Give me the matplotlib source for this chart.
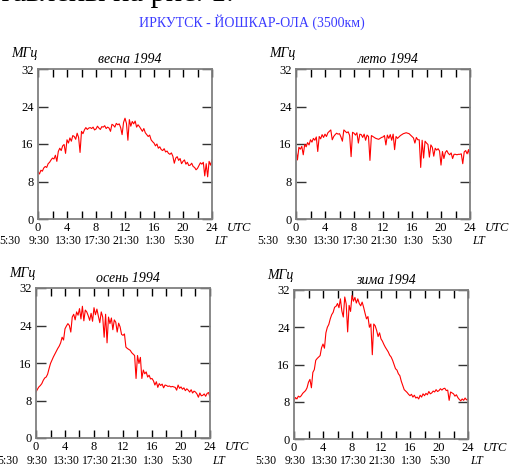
import matplotlib
matplotlib.use("Agg")
import matplotlib.pyplot as plt
import matplotlib.transforms as mtransforms
from matplotlib import font_manager as fm
import numpy as np

# make sure the Times-like serif is registered
for path in fm.findSystemFonts():
    if 'LiberationSerif' in path.replace(' ', '').replace('-', ''):
        fm.fontManager.addfont(path)
plt.rcParams['font.family'] = ['Liberation Serif', 'DejaVu Serif']

# time grid, UTC hours (0.2 h step)
hours = np.linspace(0, 24, 121)

spring = [10.1, 9.6, 10.4, 10.2, 10.9, 11.2,
          11.0, 11.8, 12.1, 12.6, 13.0,
          12.8, 13.6, 12.3, 14.4, 15.1,
          14.6, 15.6, 15.9, 14.0, 16.9,
          16.2, 17.3, 16.6, 17.8, 17.6,
          17.0, 18.3, 17.4, 14.2, 18.7,
          18.2, 19.0, 19.5, 19.1, 19.4,
          19.5, 19.3, 19.6, 19.0, 19.2,
          19.8, 19.4, 19.1, 19.7, 19.6,
          19.9, 19.3, 19.6, 19.4, 18.7,
          20.2, 20.0, 19.6, 20.4, 20.1,
          20.3, 19.5, 18.0, 20.6, 21.5,
          20.4, 16.8, 21.2, 19.8, 20.8,
          20.3, 20.9, 19.6, 20.1, 19.7,
          19.2, 18.7, 19.3, 18.4, 18.0,
          17.6, 17.9, 16.9, 16.5, 16.2,
          15.6, 16.0, 15.1, 15.4, 14.8,
          14.6, 15.0, 14.3, 14.5, 14.0,
          13.8, 14.1, 13.4, 11.9, 13.0,
          13.3, 12.5, 12.9, 11.8, 12.3,
          12.6, 11.7, 12.1, 11.4, 11.5,
          11.9, 11.2, 11.0, 10.5, 10.8,
          11.4, 12.0, 11.7, 12.1, 9.2,
          11.8, 9.0, 12.3, 11.5, 12.6]

summer = [14.8, 12.6, 15.3, 14.9, 15.5, 13.7,
          15.9, 15.4, 16.3, 15.8, 16.9,
          16.4, 17.2, 16.8, 17.5, 14.4,
          17.6, 17.1, 18.0, 17.4, 18.1,
          17.6, 18.4, 18.7, 19.0, 16.9,
          17.6, 18.0, 18.3, 18.1, 18.2,
          17.5, 16.6, 19.0, 18.7, 18.4,
          18.6, 17.8, 13.3, 18.5, 18.3,
          17.9, 18.4, 16.2, 18.1, 18.0,
          17.4, 18.1, 16.8, 17.9, 17.6,
          12.5, 17.8, 17.6, 17.4, 17.2,
          17.1, 17.0, 17.2, 17.4, 17.5,
          17.8, 15.8, 17.9, 17.2, 18.0,
          16.8, 18.1, 14.8, 17.6, 17.2,
          17.5, 17.8, 18.0, 18.2, 18.3,
          18.4, 18.3, 18.2, 17.9, 17.6,
          17.3, 16.2, 17.4, 16.9, 16.9,
          11.0, 16.8, 13.0, 16.6, 16.2,
          15.9, 13.2, 15.8, 15.3, 13.4,
          15.1, 14.7, 15.0, 14.5, 11.5,
          14.4, 12.9, 14.2, 14.6, 14.0,
          13.7, 14.1, 12.9, 13.8, 13.8,
          13.7, 13.8, 13.8, 13.9, 11.8,
          14.3, 14.6, 13.9, 14.8, 13.2]

autumn = [9.8, 10.4, 10.9, 11.2, 11.6, 12.3,
          12.8, 13.0, 13.6, 14.8, 15.9,
          16.6, 17.3, 17.9, 18.5, 19.1,
          19.6, 20.3, 21.5, 20.9, 23.3,
          23.9, 24.4, 24.0, 22.6, 25.8,
          26.4, 25.2, 26.9, 26.2, 27.6,
          25.4, 28.1, 25.0, 27.3, 26.9,
          26.1, 25.1, 26.6, 24.9, 27.8,
          26.3, 27.5, 26.0, 24.6, 26.9,
          25.8, 21.5, 26.4, 20.3, 25.8,
          24.4, 25.6, 23.1, 25.2, 24.7,
          22.6, 24.5, 23.7, 22.1, 21.9,
          22.2, 19.4, 19.1, 18.9, 18.7,
          18.2, 17.9, 17.6, 12.7, 17.6,
          15.9, 17.2, 12.7, 14.5, 13.7,
          14.1, 13.0, 13.4, 12.6, 12.7,
          12.2, 11.3, 12.0, 10.8, 11.6,
          11.2, 11.5, 10.7, 11.3, 11.2,
          11.0, 11.1, 10.9, 11.0, 10.9,
          10.8, 10.2, 11.3, 10.6, 10.9,
          10.4, 10.7, 10.1, 10.5, 10.2,
          9.8, 10.3, 9.6, 10.0, 9.8,
          9.4, 8.7, 9.6, 9.0, 9.1,
          9.4, 8.9, 9.5, 9.7, 8.7]

winter = [8.2, 8.9, 8.6, 9.2, 9.0, 9.3,
          9.8, 10.1, 10.4, 11.0, 12.2,
          12.8, 11.0, 14.3, 14.9, 16.9,
          17.3, 17.6, 17.9, 19.6, 20.4,
          19.5, 22.8, 24.0, 24.6, 25.8,
          26.7, 27.2, 28.3, 28.5, 29.1,
          28.2, 30.1, 27.5, 26.2, 30.5,
          29.0, 23.0, 28.7, 27.4, 30.8,
          29.6, 30.4, 29.2, 30.1, 29.1,
          28.6, 29.4, 28.3, 27.0, 25.8,
          26.3, 24.0, 24.7, 18.1, 24.7,
          24.3, 23.3, 22.0, 22.8, 21.5,
          21.0, 20.3, 19.7, 19.2, 18.7,
          18.0, 17.6, 16.9, 16.0, 15.1,
          14.8, 14.0, 13.6, 12.4, 11.5,
          10.6, 10.3, 10.0, 9.6, 9.3,
          9.6, 9.0, 9.4, 8.8, 9.0,
          8.6, 9.4, 9.0, 9.7, 9.3,
          9.8, 9.5, 10.2, 9.7, 9.9,
          10.3, 10.1, 10.6, 10.2, 10.4,
          10.8, 10.5, 10.8, 10.9, 10.4,
          10.5, 8.3, 10.1, 9.9, 9.7,
          9.2, 9.5, 8.9, 8.5, 8.2,
          8.6, 8.3, 8.8, 8.4, 8.6]

titles = ['весна 1994', 'лето 1994', 'осень 1994', 'зима 1994']
series = [spring, summer, autumn, winter]
utc_ticks = [0, 4, 8, 12, 16, 20, 24]
lt_labels = ['5:30', '9:30', '13:30', '17:30', '21:30', '1:30', '5:30']

W, H = 509, 467
fig = plt.figure(figsize=(W / 100, H / 100), dpi=100)

# axes boxes in pixels: left, top, right, bottom
boxes = [(38, 69, 212, 219), (296, 69, 470, 219),
         (36, 288, 210, 438), (294, 290, 468, 439)]

# tail of the document sentence above the figure, mostly cut off
fig.text(234 / W, 1 - 0.5 / H, 'представлены на рис. 1.', fontsize=22,
         ha='right', va='baseline', color='black')
fig.text(252 / W, 1 - 22 / H, 'ИРКУТСК - ЙОШКАР-ОЛА (3500км)', fontsize=10,
         ha='center', va='center', color='#3a3aff')

fs = 8.5
for (l, t, r, b), title, vals in zip(boxes, titles, series):
    ax = fig.add_axes([l / W, 1 - b / H, (r - l) / W, (b - t) / H])
    ax.plot(hours, vals, color='red', lw=0.8)
    ax.set_xlim(0, 24)
    ax.set_ylim(0, 32)
    ax.set_xticks(utc_ticks)
    ax.set_xticks(np.arange(0, 25, 2), minor=True)
    ax.set_yticks([0, 8, 16, 24, 32])
    ax.tick_params(axis='x', which='both', direction='in', top=True,
                   length=6, width=1, labelsize=9, pad=2)
    ax.tick_params(axis='y', direction='in', right=True, length=7,
                   width=1, labelsize=9, pad=3, color='#333333')
    for sp in ax.spines.values():
        sp.set_color('#808080')
        sp.set_linewidth(1.3)
    ax.set_title(title, fontsize=10, style='italic', pad=4, x=0.53)
    ax.text(-0.08, 1.1, 'МГц', transform=ax.transAxes, fontsize=10,
            style='italic', ha='center', va='center')
    ax.text(1.085, -0.06, 'UTC', transform=ax.transAxes, fontsize=9,
            style='italic', ha='left', va='center')
    trans = mtransforms.blended_transform_factory(ax.transData, ax.transAxes)
    for u, lab in zip(utc_ticks, lt_labels):
        ax.text(u - 3.85, -0.15, lab, transform=trans, fontsize=fs,
                ha='center', va='center')
    ax.text(1.01, -0.15, 'LT', transform=ax.transAxes, fontsize=fs,
            style='italic', ha='left', va='center')

fig.savefig('out.png', dpi=100)
